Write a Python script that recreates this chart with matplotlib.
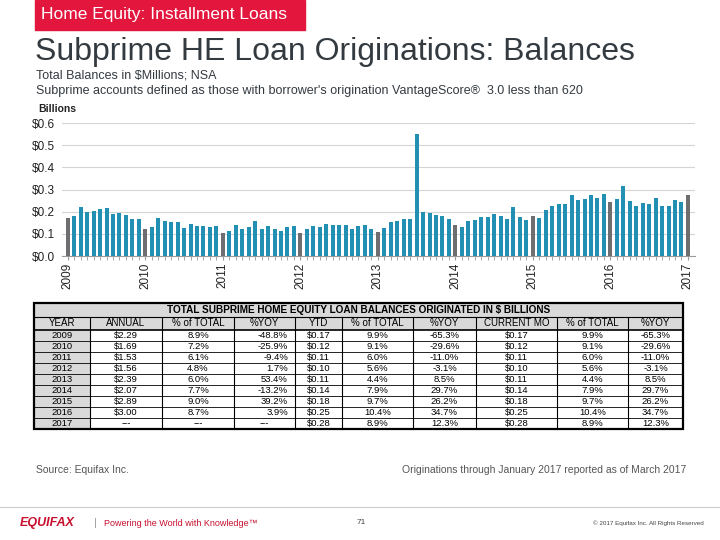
import numpy as np
import matplotlib
matplotlib.use("Agg")
import matplotlib.pyplot as plt
from matplotlib.patches import Rectangle

plt.rcParams['font.family'] = ['Liberation Sans', 'DejaVu Sans']

# monthly subprime HE originations, $ billions, Jan 2009 - Jan 2017
balances = [
    0.170, 0.180, 0.220, 0.200, 0.205, 0.210, 0.215, 0.190, 0.193, 0.183, 0.165, 0.165,  # 2009
    0.120, 0.133, 0.172, 0.160, 0.155, 0.152, 0.127, 0.145, 0.137, 0.137, 0.133, 0.135,  # 2010
    0.105, 0.115, 0.142, 0.122, 0.132, 0.158, 0.120, 0.135, 0.122, 0.115, 0.130, 0.136,  # 2011
    0.102, 0.120, 0.137, 0.130, 0.143, 0.142, 0.140, 0.140, 0.122, 0.137, 0.138, 0.120,  # 2012
    0.107, 0.127, 0.153, 0.160, 0.168, 0.165, 0.550, 0.200, 0.194, 0.186, 0.182, 0.168,  # 2013
    0.142, 0.133, 0.160, 0.162, 0.174, 0.176, 0.188, 0.182, 0.168, 0.221, 0.176, 0.162,  # 2014
    0.180, 0.170, 0.206, 0.227, 0.235, 0.235, 0.276, 0.253, 0.255, 0.276, 0.262, 0.280,  # 2015
    0.242, 0.259, 0.314, 0.247, 0.227, 0.241, 0.235, 0.260, 0.226, 0.227, 0.252, 0.242,  # 2016
    0.275,                                                                                # 2017
]
year_labels = ['2009', '2010', '2011', '2012', '2013', '2014', '2015', '2016', '2017']
y_ticks = [0.0, 0.1, 0.2, 0.3, 0.4, 0.5, 0.6]

# table
table_title = 'TOTAL SUBPRIME HOME EQUITY LOAN BALANCES ORIGINATED IN $ BILLIONS'
col_names = ['YEAR', 'ANNUAL', '% of TOTAL', '%YOY', 'YTD', '% of TOTAL', '%YOY',
             'CURRENT MO', '% of TOTAL', '%YOY']
tbl_year = ['2009', '2010', '2011', '2012', '2013', '2014', '2015', '2016', '2017']
tbl_annual = ['$2.29', '$1.69', '$1.53', '$1.56', '$2.39', '$2.07', '$2.89', '$3.00', '---']
tbl_annual_pct = ['8.9%', '7.2%', '6.1%', '4.8%', '6.0%', '7.7%', '9.0%', '8.7%', '---']
tbl_annual_yoy = ['-48.8%', '-25.9%', '-9.4%', '1.7%', '53.4%', '-13.2%', '39.2%', '3.9%', '---']
tbl_ytd = ['$0.17', '$0.12', '$0.11', '$0.10', '$0.11', '$0.14', '$0.18', '$0.25', '$0.28']
tbl_ytd_pct = ['9.9%', '9.1%', '6.0%', '5.6%', '4.4%', '7.9%', '9.7%', '10.4%', '8.9%']
tbl_ytd_yoy = ['-65.3%', '-29.6%', '-11.0%', '-3.1%', '8.5%', '29.7%', '26.2%', '34.7%', '12.3%']
tbl_cur = ['$0.17', '$0.12', '$0.11', '$0.10', '$0.11', '$0.14', '$0.18', '$0.25', '$0.28']
tbl_cur_pct = ['9.9%', '9.1%', '6.0%', '5.6%', '4.4%', '7.9%', '9.7%', '10.4%', '8.9%']
tbl_cur_yoy = ['-65.3%', '-29.6%', '-11.0%', '-3.1%', '8.5%', '29.7%', '26.2%', '34.7%', '12.3%']

TEAL = '#2190b3'
GRAY = '#6e6e70'
RED = '#e3173e'
DARK = '#333a40'

fig = plt.figure(figsize=(7.2, 5.4), dpi=100)

# page layer in pixel coords
pg = fig.add_axes([0, 0, 1, 1])
pg.set_xlim(0, 720)
pg.set_ylim(540, 0)
pg.axis('off')

pg.add_patch(Rectangle((35, 0), 270, 30, color=RED))
pg.text(41, 15, 'Home Equity: Installment Loans', color='white', fontsize=12.5,
        va='center', ha='left')
pg.text(35, 52, 'Subprime HE Loan Originations: Balances', color=DARK, fontsize=23,
        va='center', ha='left')
pg.text(36, 76, 'Total Balances in $Millions; NSA', color=DARK, fontsize=9,
        va='center', ha='left')
pg.text(36, 91, "Subprime accounts defined as those with borrower's origination VantageScore\u00ae  3.0 less than 620",
        color=DARK, fontsize=9, va='center', ha='left')
pg.text(38, 109, 'Billions', color='#222222', fontsize=7.5, fontweight='bold',
        va='center', ha='left')

# bar chart
ax = fig.add_axes([62 / 720, 1 - 256 / 540, (695 - 62) / 720, (256 - 123) / 540])
x = np.arange(len(balances))
colors = [GRAY if i % 12 == 0 else TEAL for i in x]
ax.bar(x, balances, width=0.62, color=colors, zorder=3)
ax.set_xlim(-0.9, 97.1)
ax.set_ylim(0, 0.6)
ax.set_yticks(y_ticks)
ax.set_yticklabels(['$%.1f' % v for v in y_ticks], fontsize=8.5, color='#222222')
ax.yaxis.grid(True, color='#d4d4d4', linewidth=0.8, zorder=0)
ax.set_xticks(np.arange(0, len(balances), 12))
ax.set_xticklabels(year_labels, rotation=90, fontsize=8.5, color='#222222')
ax.set_xticks(np.arange(len(balances)), minor=True)
ax.tick_params(axis='x', which='both', color='#9a9a9a', length=3, pad=2)
ax.tick_params(axis='y', length=0, pad=5)
for s in ['top', 'right', 'left']:
    ax.spines[s].set_visible(False)
ax.spines['bottom'].set_color('#9a9a9a')

# table
edges = [34, 90, 162, 234, 295, 342, 413, 476, 557, 628, 683]
top, title_bot, head_bot, bot = 303, 316.5, 329.5, 429
n = len(tbl_year)
row_h = (bot - head_bot) / n
pg.add_patch(Rectangle((edges[0], top), edges[-1] - edges[0], head_bot - top,
                       facecolor='#d9d9d9', edgecolor='none'))
pg.add_patch(Rectangle((edges[0], head_bot), edges[1] - edges[0], bot - head_bot,
                       facecolor='#d9d9d9', edgecolor='none'))
pg.text((edges[0] + edges[-1]) / 2, (top + title_bot) / 2 + 0.5, table_title,
        fontsize=7.2, fontweight='bold', ha='center', va='center', color='black')
for j, name in enumerate(col_names):
    pg.text((edges[j] + edges[j + 1]) / 2, (title_bot + head_bot) / 2 + 0.5, name,
            fontsize=7, ha='center', va='center', color='black')
columns = [tbl_year, tbl_annual, tbl_annual_pct, tbl_annual_yoy, tbl_ytd, tbl_ytd_pct,
           tbl_ytd_yoy, tbl_cur, tbl_cur_pct, tbl_cur_yoy]
for j, col in enumerate(columns):
    for i, val in enumerate(col):
        yc = head_bot + (i + 0.5) * row_h + 0.5
        if j == 3 and val != '---':
            pg.text(edges[j + 1] - 7, yc, val, fontsize=6.8, ha='right', va='center')
        else:
            pg.text((edges[j] + edges[j + 1]) / 2, yc, val, fontsize=6.8,
                    ha='center', va='center')
# grid lines
pg.plot([edges[0], edges[-1]], [title_bot, title_bot], color='black', lw=0.8)
pg.plot([edges[0], edges[-1]], [head_bot, head_bot], color='black', lw=1.2)
for i in range(1, n):
    yy = head_bot + i * row_h
    pg.plot([edges[0], edges[-1]], [yy, yy], color='black', lw=0.6)
for e in edges[1:-1]:
    pg.plot([e, e], [title_bot, bot], color='black', lw=0.8)
pg.add_patch(Rectangle((edges[0], top), edges[-1] - edges[0], bot - top,
                       facecolor='none', edgecolor='black', lw=1.6))

# footer
pg.text(36, 470, 'Source: Equifax Inc.', fontsize=7.5, color='#555555', va='center')
pg.text(686, 470, 'Originations through January 2017 reported as of March 2017',
        fontsize=7.5, color='#555555', va='center', ha='right')
pg.plot([0, 720], [507, 507], color='#cccccc', lw=0.8)
pg.text(20, 523, 'EQUIFAX', fontsize=9, color='#c8102e', fontweight='bold',
        fontstyle='italic', va='center')
pg.text(94, 523, '|', fontsize=8, color='#999999', va='center')
pg.text(104, 523, 'Powering the World with Knowledge\u2122', fontsize=6.5, color='#c8102e',
        va='center')
pg.text(357, 523, '71', fontsize=6, color='#444444', va='center')
pg.text(704, 523, '\u00a9 2017 Equifax Inc. All Rights Reserved', fontsize=4.5,
        color='#444444', va='center', ha='right')

fig.savefig('out.png', dpi=100)
